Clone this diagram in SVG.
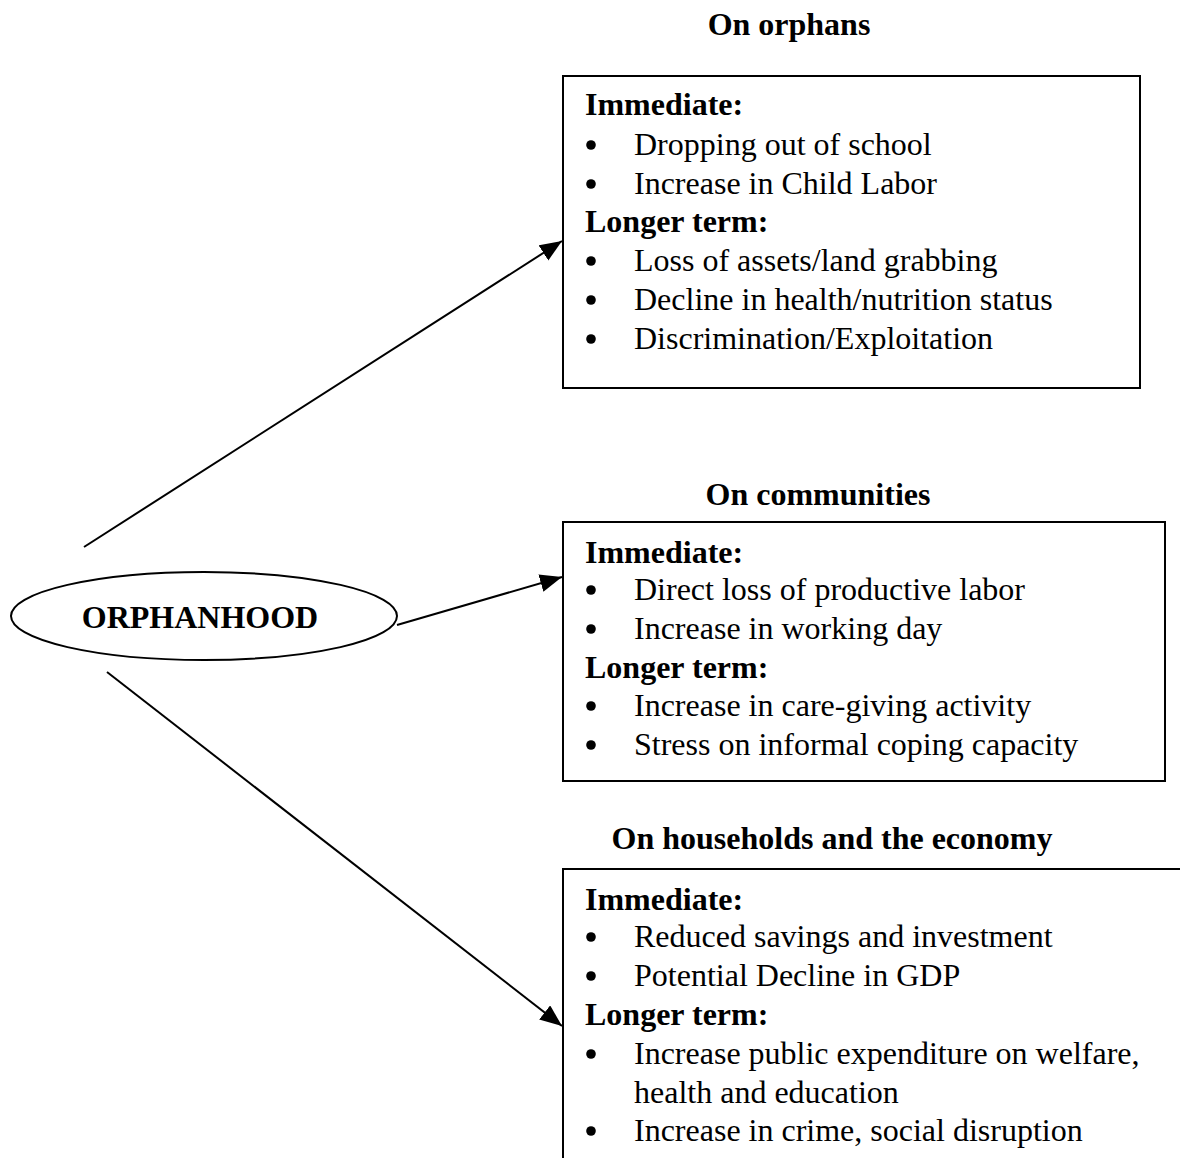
<svg xmlns="http://www.w3.org/2000/svg" width="1180" height="1158" viewBox="0 0 1180 1158">
<style>
text{font-family:"Liberation Serif","Times New Roman",serif;font-size:32px;fill:#000}
.b{font-weight:bold}
.t{font-weight:bold;text-anchor:middle}
.box{fill:#fff;stroke:#000;stroke-width:2}
.c{stroke:#000;stroke-width:2;fill:none}
.dot{fill:#000}
</style>
<defs>
<marker id="ah" markerUnits="userSpaceOnUse" markerWidth="24" markerHeight="20" refX="22" refY="9" orient="auto">
<path d="M0,0 L22,9 L0,18 z" fill="#000"/>
</marker>
</defs>
<rect width="1180" height="1158" fill="#fff"/>
<g id="connectors">
<line class="c" x1="84" y1="547" x2="562" y2="241" marker-end="url(#ah)"/>
<line class="c" x1="397" y1="625" x2="562" y2="577" marker-end="url(#ah)"/>
<line class="c" x1="107" y1="672" x2="562" y2="1026" marker-end="url(#ah)"/>
</g>
<g id="orphanhood">
<ellipse class="box" cx="204" cy="616" rx="193" ry="44"/>
<text class="t" x="200" y="628">ORPHANHOOD</text>
</g>
<g id="orphans">
<text class="t" x="789" y="35">On orphans</text>
<rect class="box" x="563" y="76" width="577" height="312"/>
<text class="b" x="585" y="115">Immediate:</text>
<circle class="dot" cx="591" cy="145" r="4.8"/><text x="634" y="155">Dropping out of school</text>
<circle class="dot" cx="591" cy="184" r="4.8"/><text x="634" y="194">Increase in Child Labor</text>
<text class="b" x="585" y="232">Longer term:</text>
<circle class="dot" cx="591" cy="261" r="4.8"/><text x="634" y="271">Loss of assets/land grabbing</text>
<circle class="dot" cx="591" cy="300" r="4.8"/><text x="634" y="310">Decline in health/nutrition status</text>
<circle class="dot" cx="591" cy="339" r="4.8"/><text x="634" y="349">Discrimination/Exploitation</text>
</g>
<g id="communities">
<text class="t" x="818" y="505">On communities</text>
<rect class="box" x="563" y="522" width="602" height="259"/>
<text class="b" x="585" y="563">Immediate:</text>
<circle class="dot" cx="591" cy="590" r="4.8"/><text x="634" y="600">Direct loss of productive labor</text>
<circle class="dot" cx="591" cy="629" r="4.8"/><text x="634" y="639">Increase in working day</text>
<text class="b" x="585" y="678">Longer term:</text>
<circle class="dot" cx="591" cy="706" r="4.8"/><text x="634" y="716">Increase in care-giving activity</text>
<circle class="dot" cx="591" cy="745" r="4.8"/><text x="634" y="755">Stress on informal coping capacity</text>
</g>
<g id="households">
<text class="t" x="832" y="849">On households and the economy</text>
<path class="c" d="M1180,869 H563 V1158"/>
<text class="b" x="585" y="910">Immediate:</text>
<circle class="dot" cx="591" cy="937" r="4.8"/><text x="634" y="947">Reduced savings and investment</text>
<circle class="dot" cx="591" cy="976" r="4.8"/><text x="634" y="986">Potential Decline in GDP</text>
<text class="b" x="585" y="1025">Longer term:</text>
<circle class="dot" cx="591" cy="1054" r="4.8"/><text x="634" y="1064">Increase public expenditure on welfare,</text>
<text x="634" y="1103">health and education</text>
<circle class="dot" cx="591" cy="1131" r="4.8"/><text x="634" y="1141">Increase in crime, social disruption</text>
</g>
</svg>
